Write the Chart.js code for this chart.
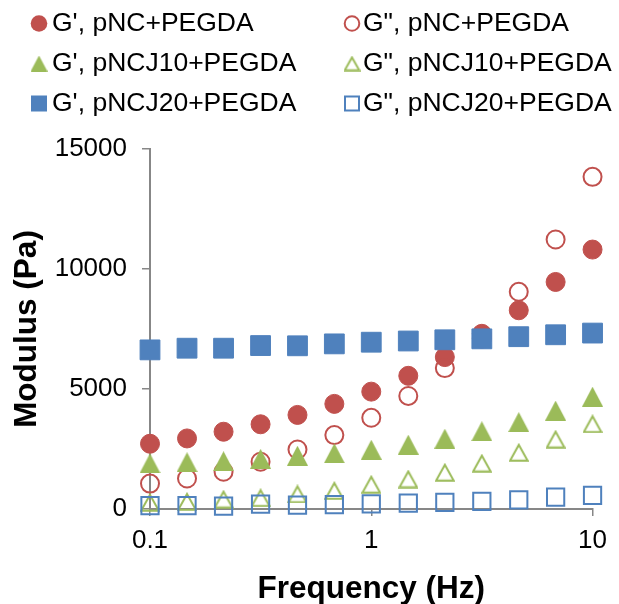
<!DOCTYPE html>
<html>
<head>
<meta charset="utf-8">
<script src="https://cdn.jsdelivr.net/npm/chart.js@4.4.1/dist/chart.umd.min.js"></script>
<style>
html,body{margin:0;padding:0;background:#ffffff;}
canvas{display:block;}
</style>
</head>
<body>
<canvas id="chart" width="619" height="604"></canvas>
<script>
// ---------- data ----------
const frequencies = [0.1, 0.147, 0.215, 0.316, 0.464, 0.681, 1, 1.47, 2.15, 3.16, 4.64, 6.81, 10];
const seriesLabels = ["G', pNC+PEGDA", 'G", pNC+PEGDA', "G', pNCJ10+PEGDA", 'G", pNCJ10+PEGDA', "G', pNCJ20+PEGDA", 'G", pNCJ20+PEGDA'];
const gPrime_pNC     = [2720, 2940, 3220, 3530, 3920, 4380, 4890, 5550, 6330, 7300, 8280, 9460, 10810];
const gDouble_pNC    = [1060, 1270, 1550, 1970, 2480, 3080, 3800, 4710, 5870, 7100, 9050, 11230, 13840];
const gPrime_pNCJ10  = [1900, 1950, 1990, 2090, 2220, 2320, 2470, 2680, 2930, 3240, 3620, 4100, 4680];
const gDouble_pNCJ10 = [280, 310, 410, 470, 630, 770, 1030, 1250, 1530, 1910, 2360, 2910, 3550];
const gPrime_pNCJ20  = [6630, 6700, 6700, 6810, 6800, 6880, 6950, 7000, 7050, 7090, 7180, 7260, 7330];
const gDouble_pNCJ20 = [140, 140, 115, 200, 165, 185, 210, 240, 280, 320, 380, 490, 570];
const xTickValues = [0.1, 1, 10];
const xTickLabels = ['0.1', '1', '10'];
const yTickValues = [0, 5000, 10000, 15000];
const yTickLabels = ['0', '5000', '10000', '15000'];
const xTitle = 'Frequency (Hz)';
const yTitle = 'Modulus (Pa)';

// ---------- styles ----------
const RED = '#C0504D', GREEN = '#9BBB59', BLUE = '#4F81BD';
const AXIS = '#878787';
const FONT = "'Liberation Sans', Arial, sans-serif";

function triangleCanvas(w, h, color, filled, lw) {
  const c = document.createElement('canvas');
  c.width = w; c.height = h;
  const g = c.getContext('2d');
  g.beginPath();
  if (filled) {
    g.moveTo(w / 2, 0); g.lineTo(w, h); g.lineTo(0, h); g.closePath();
    g.fillStyle = color; g.fill();
  } else {
    const m = lw / 2 + 0.2;
    g.moveTo(w / 2, m * 1.6); g.lineTo(w - m, h - m); g.lineTo(m, h - m); g.closePath();
    g.strokeStyle = color; g.lineWidth = lw; g.lineJoin = 'miter'; g.stroke();
  }
  return c;
}
const triFilled = triangleCanvas(21, 20, GREEN, true, 0);
const triOpen = triangleCanvas(20, 19, GREEN, false, 2);
const triFilledLeg = triangleCanvas(17, 16, GREEN, true, 0);
const triOpenLeg = triangleCanvas(17, 16, GREEN, false, 2);

function pts(vals) { return frequencies.map((f, i) => ({ x: f, y: vals[i] })); }

const seriesValues = [gPrime_pNC, gDouble_pNC, gPrime_pNCJ10, gDouble_pNCJ10, gPrime_pNCJ20, gDouble_pNCJ20];
const seriesStyles = [
  { pointStyle: 'circle', pointRadius: 9.5, borderWidth: 1, color: RED, filled: true, kind: 'circle' },
  { pointStyle: 'circle', pointRadius: 9, borderWidth: 2, color: RED, filled: false, kind: 'circle' },
  { pointStyle: triFilled, pointRadius: 10, borderWidth: 0, color: GREEN, filled: true, kind: 'tri', leg: triFilledLeg },
  { pointStyle: triOpen, pointRadius: 10, borderWidth: 0, color: GREEN, filled: false, kind: 'tri', leg: triOpenLeg },
  { pointStyle: 'rect', pointRadius: 14, borderWidth: 1, color: BLUE, filled: true, kind: 'rect' },
  { pointStyle: 'rect', pointRadius: 12.2, borderWidth: 2, color: BLUE, filled: false, kind: 'rect' }
];

const datasets = seriesValues.map((vals, i) => {
  const s = seriesStyles[i];
  return {
    label: seriesLabels[i],
    data: pts(vals),
    showLine: false,
    pointStyle: s.pointStyle,
    pointRadius: s.pointRadius,
    pointHoverRadius: s.pointRadius,
    pointBorderWidth: s.borderWidth,
    borderWidth: s.borderWidth,
    pointBackgroundColor: s.filled ? s.color : 'rgba(0,0,0,0)',
    backgroundColor: s.filled ? s.color : 'rgba(0,0,0,0)',
    pointBorderColor: s.color,
    borderColor: s.color,
    clip: false,
    order: 10 - i
  };
});

// custom two-column legend
const legendPlugin = {
  id: 'twoColLegend',
  afterDraw(chart) {
    const ctx = chart.ctx;
    const markerX = [39, 352];
    const textX = [52, 363];
    const rowY = [23.5, 63.5, 103.5];
    ctx.save();
    ctx.font = '26.5px ' + FONT;
    ctx.fillStyle = '#000000';
    ctx.textBaseline = 'middle';
    ctx.textAlign = 'left';
    chart.data.datasets.forEach((ds, i) => {
      const s = seriesStyles[i];
      const col = i % 2, row = Math.floor(i / 2);
      const x = markerX[col], y = rowY[row];
      ctx.beginPath();
      if (s.kind === 'circle') {
        if (s.filled) { ctx.arc(x, y, 8.3, 0, Math.PI * 2); ctx.fillStyle = s.color; ctx.fill(); }
        else { ctx.arc(x, y, 7.3, 0, Math.PI * 2); ctx.strokeStyle = s.color; ctx.lineWidth = 2; ctx.stroke(); }
      } else if (s.kind === 'rect') {
        if (s.filled) { ctx.fillStyle = s.color; ctx.fillRect(x - 8, y - 8, 16, 16); }
        else { ctx.strokeStyle = s.color; ctx.lineWidth = 2; ctx.strokeRect(x - 7, y - 7, 14, 14); }
      } else {
        ctx.drawImage(s.leg, x - s.leg.width / 2, y - s.leg.height / 2);
      }
      ctx.fillStyle = '#000000';
      ctx.fillText(ds.label, textX[col], y + 0.5);
    });
    ctx.restore();
  }
};

new Chart(document.getElementById('chart'), {
  type: 'scatter',
  data: { datasets },
  plugins: [legendPlugin],
  options: {
    responsive: false,
    animation: false,
    events: [],
    layout: { padding: { top: 149, right: 21, left: 0, bottom: 0 } },
    plugins: { legend: { display: false }, tooltip: { enabled: false } },
    scales: {
      x: {
        type: 'logarithmic',
        position: 'bottom',
        min: 0.1,
        max: 10,
        afterBuildTicks: (s) => { s.ticks = xTickValues.map(v => ({ value: v })); },
        afterFit: (s) => { s.height = 95; },
        ticks: {
          callback: (v, i) => xTickLabels[i],
          font: { family: FONT, size: 26, lineHeight: 1 },
          color: '#000000',
          padding: 12,
          maxRotation: 0,
          autoSkip: false
        },
        grid: { drawOnChartArea: false, drawTicks: true, tickLength: 7, color: AXIS, lineWidth: 1.5 },
        border: { display: true, color: AXIS, width: 2 },
        title: {
          display: true, text: xTitle, color: '#000000',
          font: { family: FONT, size: 31.5, weight: 'bold', lineHeight: 1 },
          padding: { top: 0, bottom: -1 }
        }
      },
      y: {
        type: 'linear',
        min: 0,
        max: 15000,
        afterBuildTicks: (s) => { s.ticks = yTickValues.map(v => ({ value: v })); },
        afterFit: (s) => { s.width = 150; },
        ticks: {
          callback: (v, i) => yTickLabels[i],
          font: { family: FONT, size: 26 },
          color: '#000000',
          padding: 15
        },
        grid: { drawOnChartArea: false, drawTicks: true, tickLength: 8, color: AXIS, lineWidth: 1.5 },
        border: { display: true, color: AXIS, width: 2 },
        title: {
          display: true, text: yTitle, color: '#000000',
          font: { family: FONT, size: 31.5, weight: 'bold', lineHeight: 1.2 },
          padding: { top: 8, bottom: 0 }
        }
      }
    }
  }
});
</script>
</body>
</html>
